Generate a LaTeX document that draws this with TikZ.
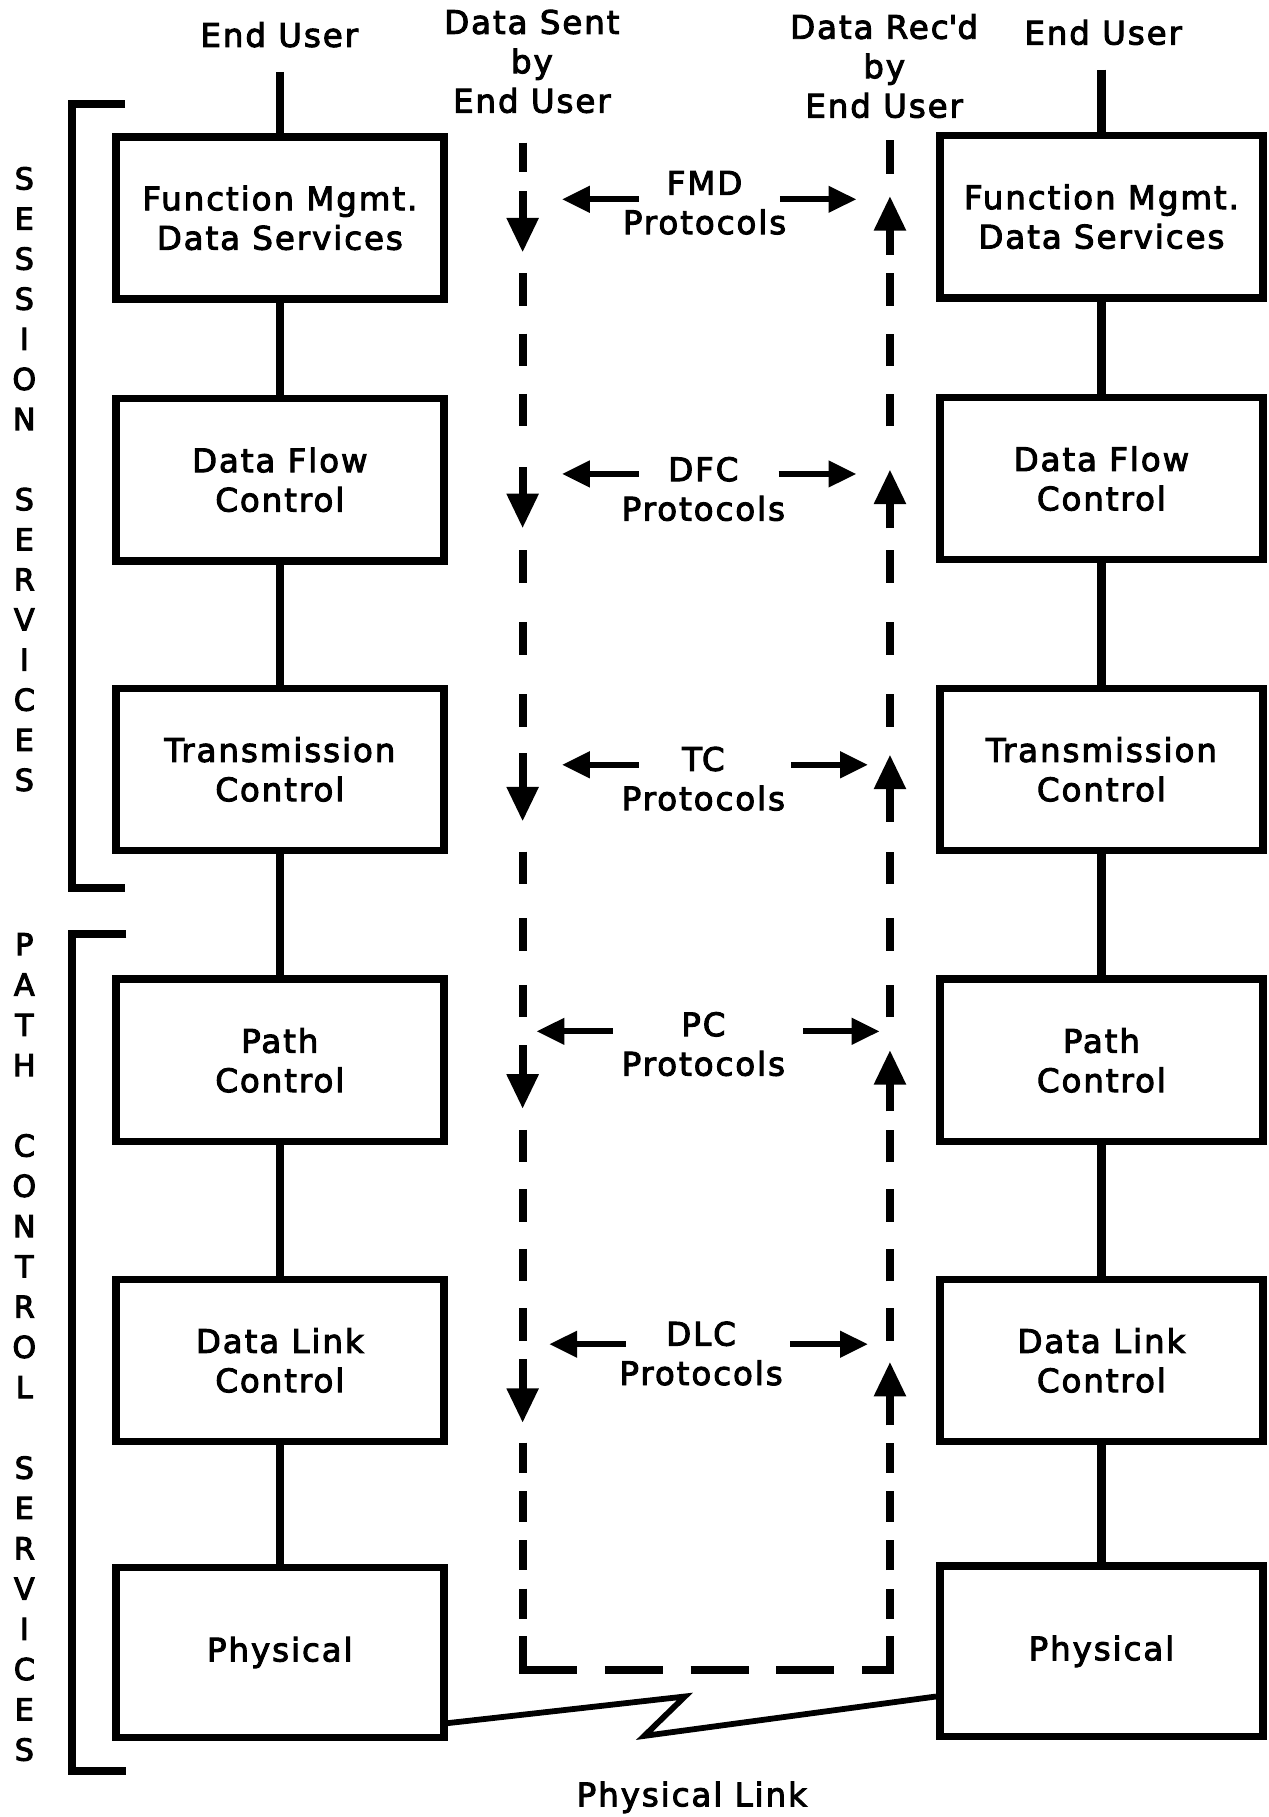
\documentclass[tikz,border=0pt]{standalone}
\usepackage{fontspec}
\setmainfont{DejaVu Sans}[LetterSpace=6, FakeBold=3]
\newfontfamily\sidefont{DejaVu Sans}[FakeBold=3.5]
\newfontfamily\tickfont{DejaVu Sans}[FakeBold=3]
\usetikzlibrary{arrows.meta}

\begin{document}
\begin{tikzpicture}[x=1pt,y=-1pt,
  txt/.style={font=\fontsize{28}{34}\selectfont, align=center, inner sep=0pt},
  layer/.style={txt, draw, line width=6.5pt, minimum height=140pt},
  leftcol/.style={layer, minimum width=283pt},
  rightcol/.style={layer, minimum width=279pt},
  sidetext/.style={font=\sidefont\fontsize{26}{34.6}\selectfont, align=center, inner sep=0pt},
  link/.style={line width=7pt},
  bracket/.style={line width=7pt},
  flow/.style={line width=7pt},
  flowarrow/.style={line width=7pt, -{Triangle[width=26pt,length=30pt]}},
  peerarrow/.style={line width=5pt, -{Triangle[width=22pt,length=24pt]}},
  wire/.style={line width=5pt, line join=miter}
]
\useasboundingbox (0,0) rectangle (1095,1568);

% layer boxes, sending node
\node[leftcol] (fmL) at (241.5,188)  {Function Mgmt.\\Data Services};
\node[leftcol] (dfL) at (241.5,414)  {Data Flow\\Control};
\node[leftcol] (tcL) at (241.5,664)  {Transmission\\Control};
\node[leftcol] (pcL) at (241.5,915)  {Path\\Control};
\node[leftcol] (dlL) at (241.5,1174) {Data Link\\Control};
\node[leftcol, minimum height=147pt] (phL) at (241.5,1426) {Physical};

% layer boxes, receiving node
\node[rightcol] (fmR) at (950.5,187)  {Function Mgmt.\\Data Services};
\node[rightcol] (dfR) at (950.5,413)  {Data Flow\\Control};
\node[rightcol] (tcR) at (950.5,664)  {Transmission\\Control};
\node[rightcol] (pcR) at (950.5,915)  {Path\\Control};
\node[rightcol] (dlR) at (950.5,1174) {Data Link\\Control};
\node[rightcol, minimum height=147pt] (phR) at (950.5,1425) {Physical};

% vertical links between layers
\draw[link] (fmL) -- (dfL) (dfL) -- (tcL) (tcL) -- (pcL) (pcL) -- (dlL) (dlL) -- (phL);
\draw[link] (fmR) -- (dfR) (dfR) -- (tcR) (tcR) -- (pcR) (pcR) -- (dlR) (dlR) -- (phR);

% end users
\node[txt] (euL) at (241,30) {End User};
\node[txt] (euR) at (952,28) {End User};
\coordinate (euLend) at (241.5,62);
\coordinate (euRend) at (950.5,60);
\draw[link] (euLend) -- (fmL.north);
\draw[link] (euRend) -- (fmR.north);

\node[txt] (sent) at (459,53) {Data Sent\\by\\End User};
\node[txt] (recd) at (763,57) {Data Rec{\tickfont '}d\\by\\End User};

% side brackets and their captions
\draw[bracket] (108,90) -- (62,90) -- (62,766) -- (108,766);
\draw[bracket] (109,806) -- (62,806) -- (62,1528) -- (109,1528);
\node[sidetext] (sess) at (21,413.5) {S\\E\\S\\S\\I\\O\\N\\[34.6pt]S\\E\\R\\V\\I\\C\\E\\S};
\node[sidetext, font=\sidefont\fontsize{26}{34.75}\selectfont] (pathc) at (21,1162.5)
  {P\\A\\T\\H\\[34.75pt]C\\O\\N\\T\\R\\O\\L\\[34.75pt]S\\E\\R\\V\\I\\C\\E\\S};

% data path down the sending stack
\draw[flow] (451,123) -- (451,148);
\draw[flowarrow] (451,165) -- (451,218);
\draw[flow, dash pattern=on 28pt off 24pt] (451,236) -- (451,368);
\draw[flowarrow] (451,403) -- (451,456);
\draw[flow, dash pattern=on 28pt off 34pt] (451,475) -- (451,627);
\draw[flowarrow] (451,650) -- (451,709);
\draw[flow, dash pattern=on 28pt off 29.5pt] (451,735) -- (451,878);
\draw[flowarrow] (451,902) -- (451,957);
\draw[flow, dash pattern=on 28pt off 23.33pt] (451,975) -- (451,1157);
\draw[flowarrow] (451,1173) -- (451,1228);
\draw[flow, dash pattern=on 26pt off 16pt] (451,1245) -- (451,1397);
\draw[flow] (451,1412) -- (451,1441) -- (498,1441);
\draw[flow, dash pattern=on 50pt off 24pt] (522,1441) -- (720,1441);
% and up the receiving stack
\draw[flow] (744,1441) -- (768,1441) -- (768,1412);
\draw[flow, dash pattern=on 26pt off 16pt] (768,1397) -- (768,1245);
\draw[flowarrow] (768,1230) -- (768,1175);
\draw[flow, dash pattern=on 28pt off 23.33pt] (768,1157) -- (768,975);
\draw[flowarrow] (768,959) -- (768,906);
\draw[flow, dash pattern=on 28pt off 29.5pt] (768,878) -- (768,735);
\draw[flowarrow] (768,709) -- (768,651);
\draw[flow, dash pattern=on 28pt off 34pt] (768,627) -- (768,475);
\draw[flowarrow] (768,456) -- (768,405);
\draw[flow, dash pattern=on 28pt off 24pt] (768,368) -- (768,236);
\draw[flowarrow] (768,220) -- (768,169);
\draw[flow] (768,150) -- (768,121);

% peer protocols
\node[txt] (fmd) at (608,175)  {FMD\\Protocols};
\node[txt] (dfc) at (607,422)  {DFC\\Protocols};
\node[txt] (tc)  at (607,672)  {TC\\Protocols};
\node[txt] (pc)  at (607,901)  {PC\\Protocols};
\node[txt] (dlc) at (605,1168) {DLC\\Protocols};

\draw[peerarrow] (551,172) -- (485,172);
\draw[peerarrow] (673,172) -- (739,172);
\draw[peerarrow] (551,409) -- (485,409);
\draw[peerarrow] (672,409) -- (739,409);
\draw[peerarrow] (551,660) -- (485,660);
\draw[peerarrow] (683,660) -- (749,660);
\draw[peerarrow] (529,890) -- (463,890);
\draw[peerarrow] (693,890) -- (759,890);
\draw[peerarrow] (540,1160) -- (474,1160);
\draw[peerarrow] (682,1160) -- (749,1160);

% physical link between the two stacks
\coordinate (plA) at (0,1487);
\coordinate (plB) at (0,1464);
\coordinate (zTop) at (591,1464);
\coordinate (zBot) at (556,1498);
\draw[wire] (phL.east |- plA) -- (zTop) -- (zBot) -- (phR.west |- plB);
\node[txt] (plink) at (597,1551) {Physical Link};
\end{tikzpicture}
\end{document}
